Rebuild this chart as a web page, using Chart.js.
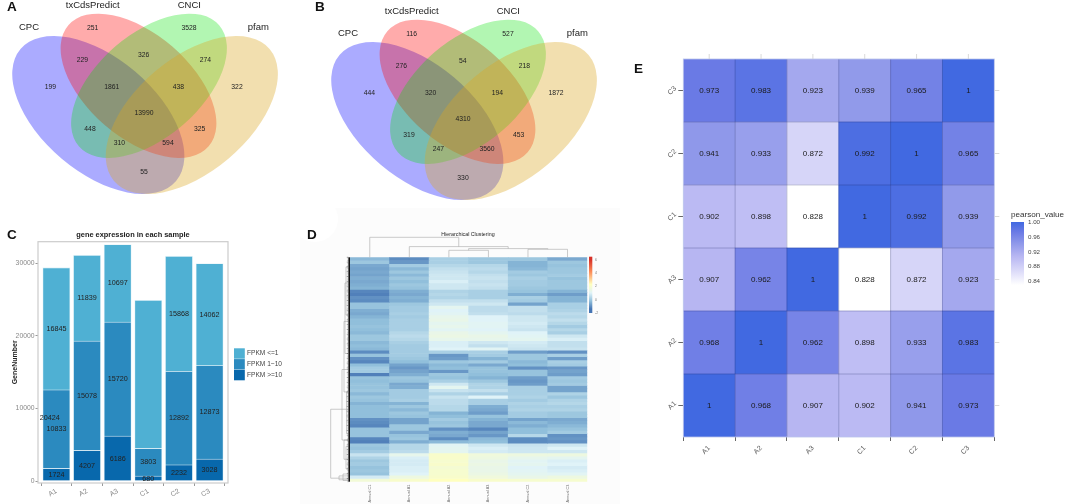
<!DOCTYPE html>
<html>
<head>
<meta charset="utf-8">
<title>Gene panels</title>
<script src="https://cdn.jsdelivr.net/npm/chart.js@4"></script>
<style>
html, body { margin: 0; padding: 0; background: #fff; }
body { position: relative; width: 1065px; height: 504px; overflow: hidden; font-family: "Liberation Sans", Arial, sans-serif; }
canvas { position: absolute; filter: blur(0.35px); }
.letter { position: absolute; font-weight: bold; font-size: 13.5px; line-height: 14px; color: #111; }
#panelBack { position: absolute; left: 300px; top: 208px; width: 320px; height: 296px; background: #fcfcfc; }
#panelNotch { position: absolute; left: 292px; top: 196px; width: 46px; height: 46px; border-radius: 50%; background: #fff; }
</style>
</head>
<body>
<div id="panelBack"></div>
<div id="panelNotch"></div>
<canvas id="vennA" width="320" height="210" style="left:0;top:0"></canvas>
<canvas id="vennB" width="320" height="210" style="left:319px;top:6px"></canvas>
<canvas id="barsC" width="300" height="289" style="left:0;top:215px"></canvas>
<canvas id="heatD" width="320" height="289" style="left:300px;top:215px"></canvas>
<canvas id="heatE" width="435" height="504" style="left:630px;top:0"></canvas>
<div class="letter" style="left:7px;top:0">A</div>
<div class="letter" style="left:315px;top:0">B</div>
<div class="letter" style="left:7px;top:228px">C</div>
<div class="letter" style="left:307px;top:228px">D</div>
<div class="letter" style="left:634px;top:62px">E</div>
<script>
// Venn counts, same region order in both panels
const vennSets = ['CPC', 'txCdsPredict', 'CNCI', 'pfam'];
const vennCountsA = [251, 3528, 229, 326, 274, 199, 1861, 438, 322, 13990, 448, 325, 310, 594, 55];
const vennCountsB = [116, 527, 276, 54, 218, 444, 320, 194, 1872, 4310, 319, 453, 247, 3560, 330];

// Stacked bars
const sampleNames = ['A1', 'A2', 'A3', 'C1', 'C2', 'C3'];
const sampleSlots = [1, 2, 3, 4, 5, 6];
const fpkmHigh = [1724, 4207, 6186, 680, 2232, 3028];
const fpkmMid = [10833, 15078, 15720, 3803, 12892, 12873];
const fpkmLow = [16845, 11839, 10697, 20424, 15868, 14062];
const geneTicks = [0, 10000, 20000, 30000];

// Clustered heatmap, one array per column, rows top to bottom
const clusterColumns = ['Annual C1', 'Annual A1', 'Annual A2', 'Annual A3', 'Annual C2', 'Annual C3'];
const zC1 = [-0.8,-0.5,-1.1,-1.2,-1.1,-1.2,-1.0,-1.1,-1.0,-0.9,-1.7,-1.8,-1.5,-1.6,-0.6,-0.6,-1.0,-1.1,-0.9,-0.7,-0.7,-0.6,-0.7,
  -0.8,-0.5,-0.5,-0.8,-0.7,-0.8,-1.6,-0.6,-1.5,-1.7,-0.7,-0.4,-0.4,-1.8,-0.6,-0.7,-0.6,-0.6,-0.5,-0.8,-0.5,-0.6,-0.9,-0.7,-0.7,
  -0.7,-0.7,-1.5,-1.6,-1.7,-0.6,-0.6,-0.6,-1.7,-1.8,-0.5,-0.6,-0.4,0.2,-0.2,-0.5,-0.4,-0.6,-0.5,-0.6,0.4,1.4];
const zA1 = [-1.6,-1.4,-0.4,-0.8,-0.5,-0.8,-0.5,-0.7,-0.5,-0.6,-1.0,-1.1,-0.9,-1.0,-0.5,-0.4,-0.4,-0.3,-0.4,-0.3,-0.3,-0.3,-0.3,
  -0.1,0.0,-0.1,-0.3,-0.4,-0.4,-0.4,-0.4,-0.5,-0.7,-1.2,-1.4,-1.2,-1.0,-0.5,-0.6,-1.1,-1.0,-0.4,-0.4,-0.4,-0.3,-0.9,-0.5,-0.8,
  -0.5,-0.6,-1.2,-1.2,-0.5,-0.5,-1.1,-0.6,-0.5,-1.0,-0.1,-0.1,0.0,0.9,0.5,0.4,0.4,0.5,0.5,0.6,1.2,1.7];
const zA2 = [-0.3,-0.3,-0.1,0.1,0.2,0.3,0.3,0.5,0.3,0.3,-0.2,-0.1,-0.2,0.1,0.3,0.8,0.6,0.7,0.9,1.0,0.8,0.9,0.7,
  1.0,1.1,0.9,0.5,0.5,0.6,-0.3,-1.4,-1.3,-0.5,-0.8,-0.7,-1.4,-0.5,-0.6,-0.3,0.3,0.8,0.2,-0.2,0.2,0.0,0.0,-0.1,-0.1,
  -0.9,-0.7,-0.4,-0.6,-0.5,-1.5,-1.0,-1.1,-1.6,-0.8,0.7,0.8,0.8,1.7,1.7,1.6,1.7,1.5,1.6,1.6,1.7,2.0];
const zA3 = [-0.5,-0.5,-0.1,0.0,-0.1,0.1,0.2,0.1,0.2,0.1,-0.3,-0.3,-0.3,0.1,0.3,0.0,0.0,0.1,0.6,0.6,0.7,0.7,0.6,
  0.8,1.0,0.9,0.3,0.1,0.7,-0.3,-0.4,-0.9,-0.4,-1.1,-0.6,-0.6,-0.7,-0.9,-0.5,-0.2,-0.2,0.1,-0.3,0.6,-0.3,-0.3,-1.0,-1.1,
  -1.3,-0.6,-0.9,-1.1,-1.1,-1.7,-1.2,-1.4,-0.8,-0.7,0.3,0.5,0.4,1.3,1.2,1.0,1.1,1.0,1.0,1.1,1.3,1.7];
const zC2 = [-0.5,-0.9,-0.9,-0.8,-0.4,-0.5,-0.3,-0.4,-0.4,-0.5,-0.6,-1.0,-0.3,-0.4,-1.2,0.1,0.1,0.0,0.3,0.3,0.4,0.3,0.2,
  0.6,0.7,0.8,0.4,0.3,0.2,-1.3,-0.5,-0.5,-0.8,-0.7,-1.5,-0.6,-0.6,-1.3,-1.4,-1.3,-0.3,-0.3,-0.3,-0.2,-0.4,-0.2,-0.3,-0.2,
  -0.4,-0.4,-1.2,-0.8,-1.0,-0.7,-0.7,-0.1,-1.6,-1.6,0.2,0.3,0.3,1.2,0.9,0.7,0.8,0.6,0.7,0.8,1.0,1.6];
const zC3 = [-1.1,-0.5,-0.6,-0.5,-0.5,-0.4,-0.6,-0.5,-0.5,-0.5,-0.9,-1.3,-0.9,-0.9,-0.3,-0.3,-0.2,0.0,-0.1,0.1,-0.1,-0.4,-0.1,
  -0.3,0.3,0.5,0.1,0.1,0.2,-1.5,-0.3,-1.3,-0.3,-0.4,-1.4,-1.2,-1.3,-0.4,-0.5,-0.4,-1.2,-1.2,-0.2,-0.5,-0.2,-0.1,-0.3,-0.2,
  -0.5,-0.5,-1.1,-1.0,-0.8,-0.6,-0.4,-1.5,-1.4,-1.5,0.3,0.6,0.3,1.2,0.8,0.5,0.6,0.4,0.5,0.7,1.2,1.6];
const zTicks = [6, 4, 2, 0, -2];

// Pearson matrix, rows bottom to top
const pearsonA1 = [1, 0.968, 0.907, 0.902, 0.941, 0.973];
const pearsonA2 = [0.968, 1, 0.962, 0.898, 0.933, 0.983];
const pearsonA3 = [0.907, 0.962, 1, 0.828, 0.872, 0.923];
const pearsonC1 = [0.902, 0.898, 0.828, 1, 0.992, 0.939];
const pearsonC2 = [0.941, 0.933, 0.872, 0.992, 1, 0.965];
const pearsonC3 = [0.973, 0.983, 0.923, 0.939, 0.965, 1];
const pearsonTicks = [1.00, 0.96, 0.92, 0.88, 0.84];

const SANS = '"Liberation Sans", Arial, sans-serif';
Chart.defaults.font.family = SANS;
Chart.defaults.animation = false;
Chart.defaults.responsive = false;
Chart.defaults.plugins.legend.display = false;
Chart.defaults.plugins.tooltip.enabled = false;

function text(ctx, str, x, y, font, color, align, angle) {
    ctx.save();
    ctx.translate(x, y);
    if (angle) ctx.rotate(angle);
    ctx.font = font;
    ctx.fillStyle = color;
    ctx.textAlign = align || 'center';
    ctx.textBaseline = 'middle';
    ctx.fillText(str, 0, 0);
    ctx.restore();
}

function mixColor(stops, v) {
    if (v <= stops[0][0]) return stops[0][1];
    for (let i = 1; i < stops.length; i++) {
        if (v <= stops[i][0]) {
            const t = (v - stops[i - 1][0]) / (stops[i][0] - stops[i - 1][0]);
            const a = stops[i - 1][1], b = stops[i][1];
            const ch = n => Math.round(parseInt(a.substr(n, 2), 16) * (1 - t) + parseInt(b.substr(n, 2), 16) * t);
            return `rgb(${ch(1)},${ch(3)},${ch(5)})`;
        }
    }
    return stops[stops.length - 1][1];
}

// ---------- Venn panels A and B ----------
const ellipses = [
    { cx: 98.3, cy: 115, rx: 102, ry: 57, deg: 40.3, fill: 'rgba(0,0,255,0.33)' },
    { cx: 138.5, cy: 85.8, rx: 92.7, ry: 51.8, deg: 40.8, fill: 'rgba(255,0,0,0.33)' },
    { cx: 149, cy: 85.8, rx: 92.7, ry: 51.8, deg: -40.8, fill: 'rgba(0,225,0,0.3)' },
    { cx: 191.8, cy: 115, rx: 102, ry: 57, deg: -40.3, fill: 'rgba(218,165,32,0.36)' }
];
const vennSpots = [[92.7, 27.7], [189, 27.7], [82.3, 60], [143.7, 54.7], [205.3, 60], [50.3, 86.7], [111.7, 86.7], [178.3, 86.7],
    [237, 86.7], [144, 113.3], [90, 129.3], [199.7, 129.3], [119.3, 142.7], [168, 142.7], [144, 172.3]];
const vennNameSpots = [[29, 27], [92.7, 5.7], [189.3, 5.7], [258.3, 27]];

const vennPlugin = {
    id: 'venn',
    beforeDatasetsDraw(chart) {
        const { ctx, scales: { x, y } } = chart;
        ellipses.forEach(e => {
            ctx.save();
            ctx.beginPath();
            ctx.ellipse(x.getPixelForValue(e.cx), y.getPixelForValue(e.cy),
                x.getPixelForValue(e.rx) - x.getPixelForValue(0),
                x.getPixelForValue(e.ry) - x.getPixelForValue(0),
                e.deg * Math.PI / 180, 0, Math.PI * 2);
            ctx.fillStyle = e.fill;
            ctx.fill();
            ctx.restore();
        });
    },
    afterDatasetsDraw(chart) {
        const { ctx, scales: { x, y } } = chart;
        chart.data.datasets[0].data.forEach(p => {
            text(ctx, p.n, x.getPixelForValue(p.x), y.getPixelForValue(p.y), '6.8px ' + SANS, '#222');
        });
        vennSets.forEach((name, i) => {
            const s = vennNameSpots[i];
            text(ctx, name, x.getPixelForValue(s[0]), y.getPixelForValue(s[1]), '9.5px ' + SANS, '#222');
        });
    }
};

function makeVenn(id, counts) {
    new Chart(document.getElementById(id), {
        type: 'scatter',
        data: { datasets: [{ data: counts.map((n, i) => ({ x: vennSpots[i][0], y: vennSpots[i][1], n })), pointRadius: 0 }] },
        options: {
            layout: { padding: 0 },
            scales: {
                x: { display: false, min: 0, max: 320 },
                y: { display: false, min: 0, max: 210, reverse: true }
            }
        },
        plugins: [vennPlugin]
    });
}
makeVenn('vennA', vennCountsA);
makeVenn('vennB', vennCountsB);

// ---------- Panel C ----------
const fpkmColors = ['#0868AC', '#2B8ABF', '#4FB0D3'];
const fpkmSeries = [fpkmHigh, fpkmMid, fpkmLow];
const fpkmNames = ['FPKM >=10', 'FPKM 1~10', 'FPKM <=1'];

const barLabels = {
    id: 'barLabels',
    afterDatasetsDraw(chart) {
        const { ctx, scales: { x, y } } = chart;
        const font = '7.2px ' + SANS;
        fpkmSeries.forEach((vals, s) => {
            vals.forEach((v, j) => {
                // the C1 top label sits far off its bar in the figure
                if (s === 2 && j === 3) return;
                let base = 0;
                for (let k = 0; k < s; k++) base += fpkmSeries[k][j];
                text(ctx, String(v), x.getPixelForValue(sampleSlots[j]), y.getPixelForValue(base + v / 2), font, '#222');
            });
        });
        text(ctx, String(fpkmLow[3]), x.getPixelForValue(0.78), y.getPixelForValue(8640), font, '#222');

        const a = chart.chartArea;
        ctx.strokeStyle = '#cccccc';
        ctx.lineWidth = 1.2;
        ctx.strokeRect(a.left, a.top, a.right - a.left, a.bottom - a.top);
        text(ctx, 'gene expression in each sample', 133, 19.5, 'bold 7.4px ' + SANS, '#222');

        // legend, top entry first
        [2, 1, 0].forEach((s, i) => {
            ctx.fillStyle = fpkmColors[s];
            ctx.fillRect(234, 133.3 + i * 10.8, 10.8, 10.4);
            text(ctx, fpkmNames[s], 247, 138.5 + i * 10.8, '6.6px ' + SANS, '#444', 'left');
        });
    }
};

new Chart(document.getElementById('barsC'), {
    type: 'bar',
    data: {
        datasets: fpkmSeries.map((vals, s) => ({
            label: fpkmNames[s],
            data: vals.map((v, j) => ({ x: sampleSlots[j], y: v })),
            backgroundColor: fpkmColors[s],
            borderColor: '#e4f3f8',
            borderWidth: 0.8,
            barThickness: 27.3
        }))
    },
    options: {
        layout: { padding: { left: 11, right: 72, top: 26.7, bottom: 0 } },
        scales: {
            x: {
                type: 'linear', stacked: true, min: 0.4, max: 6.6, offset: false,
                afterBuildTicks: s => { s.ticks = sampleSlots.map(v => ({ value: v })); },
                afterFit: s => { s.height = 21; },
                grid: { drawOnChartArea: false, tickLength: 3, color: '#999' },
                border: { display: false },
                ticks: { autoSkip: false, minRotation: 30, maxRotation: 30, padding: 1, color: '#888', font: { size: 7 }, callback: v => sampleNames[v - 1] }
            },
            y: {
                stacked: true, min: -275, max: 32985,
                afterBuildTicks: s => { s.ticks = geneTicks.map(v => ({ value: v })); },
                afterFit: s => { s.width = 27; },
                title: { display: true, text: 'GeneNumber', color: '#222', padding: 0, font: { size: 7, weight: 'bold' } },
                grid: { drawOnChartArea: false, tickLength: 2.5, color: '#999' },
                border: { display: false },
                ticks: { padding: 1, color: '#888', font: { size: 6.8 }, callback: v => String(v) }
            }
        }
    },
    plugins: [barLabels]
});

// ---------- Panel D ----------
const zStops = [[-2, '#4575B4'], [-0.7, '#91BFDB'], [0.6, '#E0F3F8'], [2, '#FFFFBF'], [4, '#FC8D59'], [6, '#D73027']];
const zRows = [zC1, zA1, zA2, zA3, zC2, zC3];

// top tree: [left, right, height] in column units and pixels above the heatmap
const topTree = [[0, 2.25, 20], [1, 3.5, 10.7], [2.5, 4.5, 8.7], [2, 3, 7], [4, 5, 8]];
// legs of the top tree: [column, from height, to height]
const topLegs = [[0, 20, 0], [2.25, 20, 10.7], [1, 10.7, 0], [3.5, 10.7, 8.7], [2.5, 8.7, 7], [4.5, 8.7, 8], [2, 7, 0], [3, 7, 0], [4, 8, 0], [5, 8, 0]];
// side tree: [distance from heatmap, first row, last row]
const sideTree = [[19.3, 47.4, 68.9], [8, 35, 57], [6, 20, 42], [5, 8, 30], [4, 3, 18], [3.5, 42, 55], [6, 57, 63], [4, 59, 66], [11, 68.2, 69.4], [7, 67.6, 69.6]];

const treePlugin = {
    id: 'tree',
    afterDatasetsDraw(chart) {
        const { ctx, chartArea: a, scales: { x, y } } = chart;
        const colX = c => x.getPixelForValue(c);
        ctx.save();
        ctx.strokeStyle = '#a8a8a8';
        ctx.lineWidth = 0.6;
        ctx.beginPath();
        topTree.forEach(t => {
            ctx.moveTo(colX(t[0]), a.top - t[2]);
            ctx.lineTo(colX(t[1]), a.top - t[2]);
        });
        topLegs.forEach(l => {
            ctx.moveTo(colX(l[0]), a.top - l[1]);
            ctx.lineTo(colX(l[0]), a.top - l[2]);
        });
        sideTree.forEach(t => {
            const px = a.left - t[0];
            ctx.moveTo(a.left - 2, y.getPixelForValue(t[1]));
            ctx.lineTo(px, y.getPixelForValue(t[1]));
            ctx.lineTo(px, y.getPixelForValue(t[2]));
            ctx.lineTo(a.left - 2, y.getPixelForValue(t[2]));
        });
        ctx.stroke();
        // leaves of the side tree merge into a solid dark strip
        ctx.fillStyle = '#111';
        ctx.fillRect(a.left - 1.6, a.top, 1.6, a.bottom - a.top);
        ctx.strokeStyle = '#333';
        ctx.lineWidth = 0.5;
        ctx.beginPath();
        for (let r = 0; r <= zC1.length; r += 0.5) {
            const py = y.getPixelForValue(r);
            ctx.moveTo(a.left - 1.6, py);
            ctx.lineTo(a.left - (r * 2 % 3 === 0 ? 3.2 : 2.4), py);
        }
        ctx.stroke();
        ctx.restore();

        text(ctx, 'Hierarchical Clustering', 168, 19.5, '5.3px ' + SANS, '#222');

        // colour key
        const grad = ctx.createLinearGradient(0, 41.7, 0, 98);
        zStops.forEach(s => grad.addColorStop((6 - s[0]) / 8 * 0.88 + 0.05, s[1]));
        ctx.fillStyle = grad;
        ctx.fillRect(289, 41.7, 3.3, 56.3);
        zTicks.forEach((v, i) => text(ctx, String(v), 295, 45 + i * 13.2, '3.4px ' + SANS, '#777', 'left'));
    }
};

new Chart(document.getElementById('heatD'), {
    type: 'bar',
    data: {
        labels: clusterColumns,
        datasets: zC1.map((_, r) => ({
            data: clusterColumns.map(() => 1),
            backgroundColor: zRows.map(col => mixColor(zStops, col[r])),
            borderWidth: 0,
            barPercentage: 1,
            categoryPercentage: 1
        }))
    },
    options: {
        layout: { padding: { left: 50, right: 32.7, top: 42.3, bottom: 0 } },
        scales: {
            x: {
                stacked: true,
                afterFit: s => { s.height = 22.3; },
                grid: { display: false, drawTicks: false },
                border: { display: false },
                ticks: { autoSkip: false, minRotation: 90, maxRotation: 90, padding: 3, color: '#666', font: { size: 3.8 } }
            },
            y: { display: false, stacked: true, min: 0, max: zC1.length, reverse: true }
        }
    },
    plugins: [treePlugin]
});

// ---------- Panel E ----------
const pearsonStops = [[0.828, '#FFFFFF'], [0.872, '#D6D5F8'], [0.907, '#B7B6F2'], [0.941, '#8F98EA'], [0.973, '#6A7AE5'], [1, '#4169E1']];
const pearsonRows = [pearsonA1, pearsonA2, pearsonA3, pearsonC1, pearsonC2, pearsonC3];
const rowCentres = sampleNames.map((_, i) => i + 0.5);

const pearsonPlugin = {
    id: 'pearson',
    afterDatasetsDraw(chart) {
        const { ctx, chartArea: a, scales: { x, y } } = chart;
        ctx.save();
        ctx.strokeStyle = 'rgba(30,35,90,0.35)';
        ctx.lineWidth = 0.7;
        ctx.beginPath();
        sampleNames.forEach((_, i) => {
            if (i === 0) return;
            const gx = x.getPixelForValue(i - 0.5);
            ctx.moveTo(gx, a.top);
            ctx.lineTo(gx, a.bottom);
            ctx.moveTo(a.left, y.getPixelForValue(i));
            ctx.lineTo(a.right, y.getPixelForValue(i));
        });
        ctx.stroke();
        // pale outer rim and the mirrored ticks
        ctx.strokeStyle = '#b9c4ec';
        ctx.lineWidth = 0.8;
        ctx.strokeRect(a.left, a.top, a.right - a.left, a.bottom - a.top);
        ctx.strokeStyle = '#cfcfcf';
        ctx.beginPath();
        sampleNames.forEach((_, i) => {
            ctx.moveTo(x.getPixelForValue(i), a.top);
            ctx.lineTo(x.getPixelForValue(i), a.top - 5);
            ctx.moveTo(a.right, y.getPixelForValue(rowCentres[i]));
            ctx.lineTo(a.right + 5, y.getPixelForValue(rowCentres[i]));
        });
        ctx.stroke();
        ctx.restore();

        pearsonRows.forEach((row, r) => {
            row.forEach((v, c) => {
                text(ctx, String(v), x.getPixelForValue(c), y.getPixelForValue(r + 0.5), '8px ' + SANS, '#1a1a1a');
            });
        });

        // colour key
        text(ctx, 'pearson_value', 381, 215, '8.1px ' + SANS, '#333', 'left');
        const top = 222, bottom = 285;
        const grad = ctx.createLinearGradient(0, top, 0, bottom);
        const vTop = 1.0, vBottom = 0.828;
        [...pearsonStops].reverse().forEach(s => grad.addColorStop((vTop - s[0]) / (vTop - vBottom), s[1]));
        ctx.fillStyle = grad;
        ctx.fillRect(381, top, 13, bottom - top);
        pearsonTicks.forEach((v, i) => text(ctx, v.toFixed(2), 398, 222.7 + i * 14.6, '6.2px ' + SANS, '#444', 'left'));
    }
};

new Chart(document.getElementById('heatE'), {
    type: 'bar',
    data: {
        labels: sampleNames,
        datasets: pearsonRows.map(row => ({
            data: sampleNames.map(() => 1),
            backgroundColor: row.map(v => mixColor(pearsonStops, v)),
            borderWidth: 0,
            barPercentage: 1,
            categoryPercentage: 1
        }))
    },
    options: {
        layout: { padding: { left: 23.3, right: 70.7, top: 59, bottom: 0 } },
        scales: {
            x: {
                stacked: true,
                afterFit: s => { s.height = 67; },
                grid: { drawOnChartArea: false, tickLength: 4, color: '#666' },
                border: { display: false },
                ticks: { autoSkip: false, minRotation: 45, maxRotation: 45, padding: 3, color: '#555', font: { size: 7 } }
            },
            y: {
                stacked: true, min: 0, max: 6,
                afterBuildTicks: s => { s.ticks = rowCentres.map(v => ({ value: v })); },
                afterFit: s => { s.width = 30; },
                grid: { drawOnChartArea: false, tickLength: 5, color: '#666' },
                border: { display: false },
                ticks: { autoSkip: false, minRotation: 45, maxRotation: 45, padding: 3, labelOffset: -3, color: '#555', font: { size: 7 }, callback: v => sampleNames[v - 0.5] }
            }
        }
    },
    plugins: [pearsonPlugin]
});
</script>
</body>
</html>
